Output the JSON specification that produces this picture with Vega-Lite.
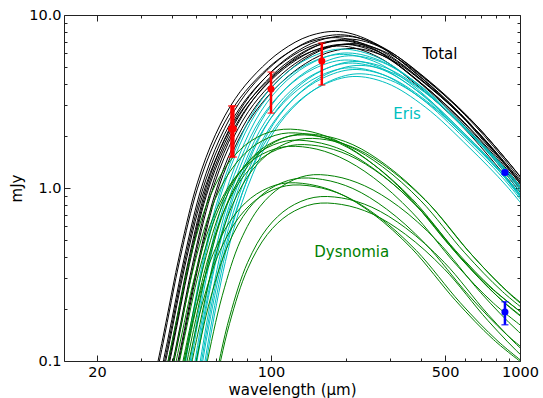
{
  "$schema": "https://vega.github.io/schema/vega-lite/v6.json",
  "width": 456,
  "height": 346,
  "autosize": "none",
  "padding": {"left": 64, "top": 15, "right": 23, "bottom": 37},
  "config": {
    "view": {"stroke": "#222222", "strokeWidth": 1},
    "font": "DejaVu Sans",
    "axis": {
      "domain": false, "grid": false, "tickColor": "#222222", "tickWidth": 1,
      "labelColor": "black", "titleColor": "black", "labelFont": "DejaVu Sans", "titleFont": "DejaVu Sans",
      "labelFontSize": 14.5, "titleFontSize": 15, "titleFontWeight": "normal",
      "labelFlush": false, "labelOverlap": false
    }
  },
  "datasets": {
    "curves": [
      {"c":"Total","i":"T1","w":31.3,"f":0.045},{"c":"Total","i":"T1","w":36.8,"f":0.136},{"c":"Total","i":"T1","w":43.2,"f":0.429},{"c":"Total","i":"T1","w":50.6,"f":1.07},{"c":"Total","i":"T1","w":59.8,"f":2.03},{"c":"Total","i":"T1","w":71.8,"f":3.28},{"c":"Total","i":"T1","w":87.4,"f":4.63},{"c":"Total","i":"T1","w":110.4,"f":6.22},{"c":"Total","i":"T1","w":142.6,"f":7.57},{"c":"Total","i":"T1","w":188.6,"f":8.02},{"c":"Total","i":"T1","w":257.6,"f":6.95},{"c":"Total","i":"T1","w":368,"f":4.8},{"c":"Total","i":"T1","w":552,"f":2.83},{"c":"Total","i":"T1","w":782,"f":1.6},{"c":"Total","i":"T1","w":1058,"f":0.927},
      {"c":"Total","i":"T2","w":31.3,"f":0.0416},{"c":"Total","i":"T2","w":36.8,"f":0.125},{"c":"Total","i":"T2","w":43.2,"f":0.395},{"c":"Total","i":"T2","w":50.6,"f":0.988},{"c":"Total","i":"T2","w":59.8,"f":1.87},{"c":"Total","i":"T2","w":71.8,"f":3.02},{"c":"Total","i":"T2","w":87.4,"f":4.26},{"c":"Total","i":"T2","w":110.4,"f":5.72},{"c":"Total","i":"T2","w":142.6,"f":6.97},{"c":"Total","i":"T2","w":188.6,"f":7.38},{"c":"Total","i":"T2","w":257.6,"f":6.4},{"c":"Total","i":"T2","w":368,"f":4.42},{"c":"Total","i":"T2","w":552,"f":2.6},{"c":"Total","i":"T2","w":782,"f":1.48},{"c":"Total","i":"T2","w":1058,"f":0.853},
      {"c":"Total","i":"T3","w":32.6,"f":0.0432},{"c":"Total","i":"T3","w":38.4,"f":0.13},{"c":"Total","i":"T3","w":45.1,"f":0.41},{"c":"Total","i":"T3","w":52.8,"f":1.026},{"c":"Total","i":"T3","w":62.4,"f":1.94},{"c":"Total","i":"T3","w":74.9,"f":3.13},{"c":"Total","i":"T3","w":91.2,"f":4.43},{"c":"Total","i":"T3","w":115.2,"f":5.94},{"c":"Total","i":"T3","w":148.8,"f":7.24},{"c":"Total","i":"T3","w":196.8,"f":7.67},{"c":"Total","i":"T3","w":268.8,"f":6.64},{"c":"Total","i":"T3","w":384,"f":4.59},{"c":"Total","i":"T3","w":576,"f":2.7},{"c":"Total","i":"T3","w":816,"f":1.53},{"c":"Total","i":"T3","w":1104,"f":0.886},
      {"c":"Total","i":"T4","w":32.6,"f":0.04},{"c":"Total","i":"T4","w":38.4,"f":0.12},{"c":"Total","i":"T4","w":45.1,"f":0.38},{"c":"Total","i":"T4","w":52.8,"f":0.95},{"c":"Total","i":"T4","w":62.4,"f":1.8},{"c":"Total","i":"T4","w":74.9,"f":2.9},{"c":"Total","i":"T4","w":91.2,"f":4.1},{"c":"Total","i":"T4","w":115.2,"f":5.5},{"c":"Total","i":"T4","w":148.8,"f":6.7},{"c":"Total","i":"T4","w":196.8,"f":7.1},{"c":"Total","i":"T4","w":268.8,"f":6.15},{"c":"Total","i":"T4","w":384,"f":4.25},{"c":"Total","i":"T4","w":576,"f":2.5},{"c":"Total","i":"T4","w":816,"f":1.42},{"c":"Total","i":"T4","w":1104,"f":0.82},
      {"c":"Total","i":"T5","w":34,"f":0.0424},{"c":"Total","i":"T5","w":40,"f":0.127},{"c":"Total","i":"T5","w":47,"f":0.403},{"c":"Total","i":"T5","w":55,"f":1.007},{"c":"Total","i":"T5","w":65,"f":1.91},{"c":"Total","i":"T5","w":78,"f":3.07},{"c":"Total","i":"T5","w":95,"f":4.35},{"c":"Total","i":"T5","w":120,"f":5.83},{"c":"Total","i":"T5","w":155,"f":7.1},{"c":"Total","i":"T5","w":205,"f":7.53},{"c":"Total","i":"T5","w":280,"f":6.52},{"c":"Total","i":"T5","w":400,"f":4.51},{"c":"Total","i":"T5","w":600,"f":2.65},{"c":"Total","i":"T5","w":850,"f":1.51},{"c":"Total","i":"T5","w":1150,"f":0.869},
      {"c":"Total","i":"T6","w":34,"f":0.04},{"c":"Total","i":"T6","w":40,"f":0.12},{"c":"Total","i":"T6","w":47,"f":0.38},{"c":"Total","i":"T6","w":55,"f":0.95},{"c":"Total","i":"T6","w":65,"f":1.8},{"c":"Total","i":"T6","w":78,"f":2.9},{"c":"Total","i":"T6","w":95,"f":4.1},{"c":"Total","i":"T6","w":120,"f":5.5},{"c":"Total","i":"T6","w":155,"f":6.7},{"c":"Total","i":"T6","w":205,"f":7.1},{"c":"Total","i":"T6","w":280,"f":6.15},{"c":"Total","i":"T6","w":400,"f":4.25},{"c":"Total","i":"T6","w":600,"f":2.5},{"c":"Total","i":"T6","w":850,"f":1.42},{"c":"Total","i":"T6","w":1150,"f":0.82},
      {"c":"Total","i":"T7","w":34,"f":0.038},{"c":"Total","i":"T7","w":40,"f":0.114},{"c":"Total","i":"T7","w":47,"f":0.361},{"c":"Total","i":"T7","w":55,"f":0.903},{"c":"Total","i":"T7","w":65,"f":1.71},{"c":"Total","i":"T7","w":78,"f":2.76},{"c":"Total","i":"T7","w":95,"f":3.9},{"c":"Total","i":"T7","w":120,"f":5.23},{"c":"Total","i":"T7","w":155,"f":6.37},{"c":"Total","i":"T7","w":205,"f":6.75},{"c":"Total","i":"T7","w":280,"f":5.84},{"c":"Total","i":"T7","w":400,"f":4.04},{"c":"Total","i":"T7","w":600,"f":2.38},{"c":"Total","i":"T7","w":850,"f":1.35},{"c":"Total","i":"T7","w":1150,"f":0.779},
      {"c":"Total","i":"T8","w":35.4,"f":0.0408},{"c":"Total","i":"T8","w":41.6,"f":0.122},{"c":"Total","i":"T8","w":48.9,"f":0.388},{"c":"Total","i":"T8","w":57.2,"f":0.969},{"c":"Total","i":"T8","w":67.6,"f":1.84},{"c":"Total","i":"T8","w":81.1,"f":2.96},{"c":"Total","i":"T8","w":98.8,"f":4.18},{"c":"Total","i":"T8","w":124.8,"f":5.61},{"c":"Total","i":"T8","w":161.2,"f":6.83},{"c":"Total","i":"T8","w":213.2,"f":7.24},{"c":"Total","i":"T8","w":291.2,"f":6.27},{"c":"Total","i":"T8","w":416,"f":4.34},{"c":"Total","i":"T8","w":624,"f":2.55},{"c":"Total","i":"T8","w":884,"f":1.45},{"c":"Total","i":"T8","w":1196,"f":0.836},
      {"c":"Total","i":"T9","w":35.4,"f":0.038},{"c":"Total","i":"T9","w":41.6,"f":0.114},{"c":"Total","i":"T9","w":48.9,"f":0.361},{"c":"Total","i":"T9","w":57.2,"f":0.903},{"c":"Total","i":"T9","w":67.6,"f":1.71},{"c":"Total","i":"T9","w":81.1,"f":2.76},{"c":"Total","i":"T9","w":98.8,"f":3.9},{"c":"Total","i":"T9","w":124.8,"f":5.23},{"c":"Total","i":"T9","w":161.2,"f":6.37},{"c":"Total","i":"T9","w":213.2,"f":6.75},{"c":"Total","i":"T9","w":291.2,"f":5.84},{"c":"Total","i":"T9","w":416,"f":4.04},{"c":"Total","i":"T9","w":624,"f":2.38},{"c":"Total","i":"T9","w":884,"f":1.35},{"c":"Total","i":"T9","w":1196,"f":0.779},
      {"c":"Total","i":"T10","w":36.7,"f":0.0384},{"c":"Total","i":"T10","w":43.2,"f":0.115},{"c":"Total","i":"T10","w":50.8,"f":0.365},{"c":"Total","i":"T10","w":59.4,"f":0.912},{"c":"Total","i":"T10","w":70.2,"f":1.73},{"c":"Total","i":"T10","w":84.2,"f":2.78},{"c":"Total","i":"T10","w":102.6,"f":3.94},{"c":"Total","i":"T10","w":129.6,"f":5.28},{"c":"Total","i":"T10","w":167.4,"f":6.43},{"c":"Total","i":"T10","w":221.4,"f":6.82},{"c":"Total","i":"T10","w":302.4,"f":5.9},{"c":"Total","i":"T10","w":432,"f":4.08},{"c":"Total","i":"T10","w":648,"f":2.4},{"c":"Total","i":"T10","w":918,"f":1.36},{"c":"Total","i":"T10","w":1242,"f":0.787},
      {"c":"Total","i":"T11","w":36.7,"f":0.036},{"c":"Total","i":"T11","w":43.2,"f":0.108},{"c":"Total","i":"T11","w":50.8,"f":0.342},{"c":"Total","i":"T11","w":59.4,"f":0.855},{"c":"Total","i":"T11","w":70.2,"f":1.62},{"c":"Total","i":"T11","w":84.2,"f":2.61},{"c":"Total","i":"T11","w":102.6,"f":3.69},{"c":"Total","i":"T11","w":129.6,"f":4.95},{"c":"Total","i":"T11","w":167.4,"f":6.03},{"c":"Total","i":"T11","w":221.4,"f":6.39},{"c":"Total","i":"T11","w":302.4,"f":5.54},{"c":"Total","i":"T11","w":432,"f":3.83},{"c":"Total","i":"T11","w":648,"f":2.25},{"c":"Total","i":"T11","w":918,"f":1.28},{"c":"Total","i":"T11","w":1242,"f":0.738},
      {"c":"Total","i":"T12","w":32.6,"f":0.0372},{"c":"Total","i":"T12","w":38.4,"f":0.112},{"c":"Total","i":"T12","w":45.1,"f":0.353},{"c":"Total","i":"T12","w":52.8,"f":0.884},{"c":"Total","i":"T12","w":62.4,"f":1.67},{"c":"Total","i":"T12","w":74.9,"f":2.7},{"c":"Total","i":"T12","w":91.2,"f":3.81},{"c":"Total","i":"T12","w":115.2,"f":5.12},{"c":"Total","i":"T12","w":148.8,"f":6.23},{"c":"Total","i":"T12","w":196.8,"f":6.6},{"c":"Total","i":"T12","w":268.8,"f":5.72},{"c":"Total","i":"T12","w":384,"f":3.95},{"c":"Total","i":"T12","w":576,"f":2.33},{"c":"Total","i":"T12","w":816,"f":1.32},{"c":"Total","i":"T12","w":1104,"f":0.763},

      {"c":"Eris","i":"E1","w":36.8,"f":0.0142},{"c":"Eris","i":"E1","w":43.2,"f":0.0673},{"c":"Eris","i":"E1","w":50.6,"f":0.26},{"c":"Eris","i":"E1","w":59.8,"f":0.767},{"c":"Eris","i":"E1","w":71.8,"f":1.65},{"c":"Eris","i":"E1","w":87.4,"f":2.93},{"c":"Eris","i":"E1","w":110.4,"f":4.38},{"c":"Eris","i":"E1","w":142.6,"f":5.65},{"c":"Eris","i":"E1","w":188.6,"f":6.35},{"c":"Eris","i":"E1","w":257.6,"f":5.82},{"c":"Eris","i":"E1","w":368,"f":4.24},{"c":"Eris","i":"E1","w":552,"f":2.48},{"c":"Eris","i":"E1","w":782,"f":1.475},{"c":"Eris","i":"E1","w":1058,"f":0.861},
      {"c":"Eris","i":"E2","w":36.8,"f":0.0132},{"c":"Eris","i":"E2","w":43.2,"f":0.0627},{"c":"Eris","i":"E2","w":50.6,"f":0.242},{"c":"Eris","i":"E2","w":59.8,"f":0.715},{"c":"Eris","i":"E2","w":71.8,"f":1.54},{"c":"Eris","i":"E2","w":87.4,"f":2.73},{"c":"Eris","i":"E2","w":110.4,"f":4.08},{"c":"Eris","i":"E2","w":142.6,"f":5.27},{"c":"Eris","i":"E2","w":188.6,"f":5.92},{"c":"Eris","i":"E2","w":257.6,"f":5.42},{"c":"Eris","i":"E2","w":368,"f":3.95},{"c":"Eris","i":"E2","w":552,"f":2.31},{"c":"Eris","i":"E2","w":782,"f":1.375},{"c":"Eris","i":"E2","w":1058,"f":0.803},
      {"c":"Eris","i":"E3","w":38.4,"f":0.0134},{"c":"Eris","i":"E3","w":45.1,"f":0.0638},{"c":"Eris","i":"E3","w":52.8,"f":0.246},{"c":"Eris","i":"E3","w":62.4,"f":0.728},{"c":"Eris","i":"E3","w":74.9,"f":1.57},{"c":"Eris","i":"E3","w":91.2,"f":2.78},{"c":"Eris","i":"E3","w":115.2,"f":4.16},{"c":"Eris","i":"E3","w":148.8,"f":5.36},{"c":"Eris","i":"E3","w":196.8,"f":6.03},{"c":"Eris","i":"E3","w":268.8,"f":5.52},{"c":"Eris","i":"E3","w":384,"f":4.02},{"c":"Eris","i":"E3","w":576,"f":2.35},{"c":"Eris","i":"E3","w":816,"f":1.4},{"c":"Eris","i":"E3","w":1104,"f":0.818},
      {"c":"Eris","i":"E4","w":38.4,"f":0.0122},{"c":"Eris","i":"E4","w":45.1,"f":0.0581},{"c":"Eris","i":"E4","w":52.8,"f":0.224},{"c":"Eris","i":"E4","w":62.4,"f":0.663},{"c":"Eris","i":"E4","w":74.9,"f":1.43},{"c":"Eris","i":"E4","w":91.2,"f":2.53},{"c":"Eris","i":"E4","w":115.2,"f":3.78},{"c":"Eris","i":"E4","w":148.8,"f":4.89},{"c":"Eris","i":"E4","w":196.8,"f":5.49},{"c":"Eris","i":"E4","w":268.8,"f":5.03},{"c":"Eris","i":"E4","w":384,"f":3.66},{"c":"Eris","i":"E4","w":576,"f":2.14},{"c":"Eris","i":"E4","w":816,"f":1.275},{"c":"Eris","i":"E4","w":1104,"f":0.745},
      {"c":"Eris","i":"E5","w":40,"f":0.013},{"c":"Eris","i":"E5","w":47,"f":0.0616},{"c":"Eris","i":"E5","w":55,"f":0.238},{"c":"Eris","i":"E5","w":65,"f":0.702},{"c":"Eris","i":"E5","w":78,"f":1.51},{"c":"Eris","i":"E5","w":95,"f":2.68},{"c":"Eris","i":"E5","w":120,"f":4.01},{"c":"Eris","i":"E5","w":155,"f":5.17},{"c":"Eris","i":"E5","w":205,"f":5.81},{"c":"Eris","i":"E5","w":280,"f":5.32},{"c":"Eris","i":"E5","w":400,"f":3.88},{"c":"Eris","i":"E5","w":600,"f":2.27},{"c":"Eris","i":"E5","w":850,"f":1.35},{"c":"Eris","i":"E5","w":1150,"f":0.788},
      {"c":"Eris","i":"E6","w":40,"f":0.0118},{"c":"Eris","i":"E6","w":47,"f":0.0559},{"c":"Eris","i":"E6","w":55,"f":0.216},{"c":"Eris","i":"E6","w":65,"f":0.637},{"c":"Eris","i":"E6","w":78,"f":1.37},{"c":"Eris","i":"E6","w":95,"f":2.43},{"c":"Eris","i":"E6","w":120,"f":3.64},{"c":"Eris","i":"E6","w":155,"f":4.69},{"c":"Eris","i":"E6","w":205,"f":5.27},{"c":"Eris","i":"E6","w":280,"f":4.83},{"c":"Eris","i":"E6","w":400,"f":3.52},{"c":"Eris","i":"E6","w":600,"f":2.06},{"c":"Eris","i":"E6","w":850,"f":1.225},{"c":"Eris","i":"E6","w":1150,"f":0.715},
      {"c":"Eris","i":"E7","w":40,"f":0.011},{"c":"Eris","i":"E7","w":47,"f":0.0524},{"c":"Eris","i":"E7","w":55,"f":0.202},{"c":"Eris","i":"E7","w":65,"f":0.598},{"c":"Eris","i":"E7","w":78,"f":1.29},{"c":"Eris","i":"E7","w":95,"f":2.28},{"c":"Eris","i":"E7","w":120,"f":3.41},{"c":"Eris","i":"E7","w":155,"f":4.41},{"c":"Eris","i":"E7","w":205,"f":4.95},{"c":"Eris","i":"E7","w":280,"f":4.54},{"c":"Eris","i":"E7","w":400,"f":3.3},{"c":"Eris","i":"E7","w":600,"f":1.93},{"c":"Eris","i":"E7","w":850,"f":1.15},{"c":"Eris","i":"E7","w":1150,"f":0.672},
      {"c":"Eris","i":"E8","w":41.6,"f":0.012},{"c":"Eris","i":"E8","w":48.9,"f":0.057},{"c":"Eris","i":"E8","w":57.2,"f":0.22},{"c":"Eris","i":"E8","w":67.6,"f":0.65},{"c":"Eris","i":"E8","w":81.1,"f":1.4},{"c":"Eris","i":"E8","w":98.8,"f":2.48},{"c":"Eris","i":"E8","w":124.8,"f":3.71},{"c":"Eris","i":"E8","w":161.2,"f":4.79},{"c":"Eris","i":"E8","w":213.2,"f":5.38},{"c":"Eris","i":"E8","w":291.2,"f":4.93},{"c":"Eris","i":"E8","w":416,"f":3.59},{"c":"Eris","i":"E8","w":624,"f":2.1},{"c":"Eris","i":"E8","w":884,"f":1.25},{"c":"Eris","i":"E8","w":1196,"f":0.73},
      {"c":"Eris","i":"E9","w":41.6,"f":0.0108},{"c":"Eris","i":"E9","w":48.9,"f":0.0513},{"c":"Eris","i":"E9","w":57.2,"f":0.198},{"c":"Eris","i":"E9","w":67.6,"f":0.585},{"c":"Eris","i":"E9","w":81.1,"f":1.26},{"c":"Eris","i":"E9","w":98.8,"f":2.23},{"c":"Eris","i":"E9","w":124.8,"f":3.34},{"c":"Eris","i":"E9","w":161.2,"f":4.31},{"c":"Eris","i":"E9","w":213.2,"f":4.84},{"c":"Eris","i":"E9","w":291.2,"f":4.44},{"c":"Eris","i":"E9","w":416,"f":3.23},{"c":"Eris","i":"E9","w":624,"f":1.89},{"c":"Eris","i":"E9","w":884,"f":1.125},{"c":"Eris","i":"E9","w":1196,"f":0.657},
      {"c":"Eris","i":"E10","w":43.2,"f":0.0114},{"c":"Eris","i":"E10","w":50.8,"f":0.0542},{"c":"Eris","i":"E10","w":59.4,"f":0.209},{"c":"Eris","i":"E10","w":70.2,"f":0.618},{"c":"Eris","i":"E10","w":84.2,"f":1.33},{"c":"Eris","i":"E10","w":102.6,"f":2.36},{"c":"Eris","i":"E10","w":129.6,"f":3.52},{"c":"Eris","i":"E10","w":167.4,"f":4.55},{"c":"Eris","i":"E10","w":221.4,"f":5.11},{"c":"Eris","i":"E10","w":302.4,"f":4.68},{"c":"Eris","i":"E10","w":432,"f":3.41},{"c":"Eris","i":"E10","w":648,"f":2.0},{"c":"Eris","i":"E10","w":918,"f":1.19},{"c":"Eris","i":"E10","w":1242,"f":0.694},
      {"c":"Eris","i":"E11","w":43.2,"f":0.0102},{"c":"Eris","i":"E11","w":50.8,"f":0.0485},{"c":"Eris","i":"E11","w":59.4,"f":0.187},{"c":"Eris","i":"E11","w":70.2,"f":0.553},{"c":"Eris","i":"E11","w":84.2,"f":1.19},{"c":"Eris","i":"E11","w":102.6,"f":2.11},{"c":"Eris","i":"E11","w":129.6,"f":3.15},{"c":"Eris","i":"E11","w":167.4,"f":4.07},{"c":"Eris","i":"E11","w":221.4,"f":4.57},{"c":"Eris","i":"E11","w":302.4,"f":4.19},{"c":"Eris","i":"E11","w":432,"f":3.05},{"c":"Eris","i":"E11","w":648,"f":1.79},{"c":"Eris","i":"E11","w":918,"f":1.06},{"c":"Eris","i":"E11","w":1242,"f":0.621},
      {"c":"Eris","i":"E12","w":41.6,"f":0.0098},{"c":"Eris","i":"E12","w":48.9,"f":0.0467},{"c":"Eris","i":"E12","w":57.2,"f":0.18},{"c":"Eris","i":"E12","w":67.6,"f":0.533},{"c":"Eris","i":"E12","w":81.1,"f":1.15},{"c":"Eris","i":"E12","w":98.8,"f":2.03},{"c":"Eris","i":"E12","w":124.8,"f":3.04},{"c":"Eris","i":"E12","w":161.2,"f":3.93},{"c":"Eris","i":"E12","w":213.2,"f":4.41},{"c":"Eris","i":"E12","w":291.2,"f":4.04},{"c":"Eris","i":"E12","w":416,"f":2.94},{"c":"Eris","i":"E12","w":624,"f":1.72},{"c":"Eris","i":"E12","w":884,"f":1.025},{"c":"Eris","i":"E12","w":1196,"f":0.599},

      {"c":"Dysnomia","i":"D1","w":35.2,"f":0.0515},{"c":"Dysnomia","i":"D1","w":41.4,"f":0.162},{"c":"Dysnomia","i":"D1","w":48.4,"f":0.441},{"c":"Dysnomia","i":"D1","w":57.2,"f":0.911},{"c":"Dysnomia","i":"D1","w":68.6,"f":1.44},{"c":"Dysnomia","i":"D1","w":83.6,"f":1.88},{"c":"Dysnomia","i":"D1","w":105.6,"f":2.16},{"c":"Dysnomia","i":"D1","w":136.4,"f":2.15},{"c":"Dysnomia","i":"D1","w":180.4,"f":1.9},{"c":"Dysnomia","i":"D1","w":246.4,"f":1.44},{"c":"Dysnomia","i":"D1","w":352,"f":0.911},{"c":"Dysnomia","i":"D1","w":528,"f":0.456},{"c":"Dysnomia","i":"D1","w":748,"f":0.272},{"c":"Dysnomia","i":"D1","w":1012,"f":0.191},
      {"c":"Dysnomia","i":"D2","w":36.8,"f":0.049},{"c":"Dysnomia","i":"D2","w":43.2,"f":0.154},{"c":"Dysnomia","i":"D2","w":50.6,"f":0.42},{"c":"Dysnomia","i":"D2","w":59.8,"f":0.868},{"c":"Dysnomia","i":"D2","w":71.8,"f":1.37},{"c":"Dysnomia","i":"D2","w":87.4,"f":1.79},{"c":"Dysnomia","i":"D2","w":110.4,"f":2.06},{"c":"Dysnomia","i":"D2","w":142.6,"f":2.04},{"c":"Dysnomia","i":"D2","w":188.6,"f":1.81},{"c":"Dysnomia","i":"D2","w":257.6,"f":1.37},{"c":"Dysnomia","i":"D2","w":368,"f":0.868},{"c":"Dysnomia","i":"D2","w":552,"f":0.434},{"c":"Dysnomia","i":"D2","w":782,"f":0.259},{"c":"Dysnomia","i":"D2","w":1058,"f":0.182},
      {"c":"Dysnomia","i":"D3","w":40,"f":0.0476},{"c":"Dysnomia","i":"D3","w":47,"f":0.15},{"c":"Dysnomia","i":"D3","w":55,"f":0.408},{"c":"Dysnomia","i":"D3","w":65,"f":0.843},{"c":"Dysnomia","i":"D3","w":78,"f":1.33},{"c":"Dysnomia","i":"D3","w":95,"f":1.74},{"c":"Dysnomia","i":"D3","w":120,"f":2.0},{"c":"Dysnomia","i":"D3","w":155,"f":1.99},{"c":"Dysnomia","i":"D3","w":205,"f":1.75},{"c":"Dysnomia","i":"D3","w":280,"f":1.33},{"c":"Dysnomia","i":"D3","w":400,"f":0.843},{"c":"Dysnomia","i":"D3","w":600,"f":0.422},{"c":"Dysnomia","i":"D3","w":850,"f":0.252},{"c":"Dysnomia","i":"D3","w":1150,"f":0.177},
      {"c":"Dysnomia","i":"D4","w":41.6,"f":0.0483},{"c":"Dysnomia","i":"D4","w":48.9,"f":0.152},{"c":"Dysnomia","i":"D4","w":57.2,"f":0.414},{"c":"Dysnomia","i":"D4","w":67.6,"f":0.856},{"c":"Dysnomia","i":"D4","w":81.1,"f":1.35},{"c":"Dysnomia","i":"D4","w":98.8,"f":1.77},{"c":"Dysnomia","i":"D4","w":124.8,"f":2.03},{"c":"Dysnomia","i":"D4","w":161.2,"f":2.01},{"c":"Dysnomia","i":"D4","w":213.2,"f":1.78},{"c":"Dysnomia","i":"D4","w":291.2,"f":1.35},{"c":"Dysnomia","i":"D4","w":416,"f":0.856},{"c":"Dysnomia","i":"D4","w":624,"f":0.428},{"c":"Dysnomia","i":"D4","w":884,"f":0.255},{"c":"Dysnomia","i":"D4","w":1196,"f":0.179},
      {"c":"Dysnomia","i":"D5","w":38.4,"f":0.0445},{"c":"Dysnomia","i":"D5","w":45.1,"f":0.14},{"c":"Dysnomia","i":"D5","w":52.8,"f":0.381},{"c":"Dysnomia","i":"D5","w":62.4,"f":0.787},{"c":"Dysnomia","i":"D5","w":74.9,"f":1.24},{"c":"Dysnomia","i":"D5","w":91.2,"f":1.63},{"c":"Dysnomia","i":"D5","w":115.2,"f":1.87},{"c":"Dysnomia","i":"D5","w":148.8,"f":1.85},{"c":"Dysnomia","i":"D5","w":196.8,"f":1.64},{"c":"Dysnomia","i":"D5","w":268.8,"f":1.24},{"c":"Dysnomia","i":"D5","w":384,"f":0.787},{"c":"Dysnomia","i":"D5","w":576,"f":0.394},{"c":"Dysnomia","i":"D5","w":816,"f":0.235},{"c":"Dysnomia","i":"D5","w":1104,"f":0.165},
      {"c":"Dysnomia","i":"D6","w":43.2,"f":0.0455},{"c":"Dysnomia","i":"D6","w":50.8,"f":0.143},{"c":"Dysnomia","i":"D6","w":59.4,"f":0.39},{"c":"Dysnomia","i":"D6","w":70.2,"f":0.806},{"c":"Dysnomia","i":"D6","w":84.2,"f":1.27},{"c":"Dysnomia","i":"D6","w":102.6,"f":1.66},{"c":"Dysnomia","i":"D6","w":129.6,"f":1.91},{"c":"Dysnomia","i":"D6","w":167.4,"f":1.9},{"c":"Dysnomia","i":"D6","w":221.4,"f":1.68},{"c":"Dysnomia","i":"D6","w":302.4,"f":1.27},{"c":"Dysnomia","i":"D6","w":432,"f":0.806},{"c":"Dysnomia","i":"D6","w":648,"f":0.403},{"c":"Dysnomia","i":"D6","w":918,"f":0.241},{"c":"Dysnomia","i":"D6","w":1242,"f":0.169},
      {"c":"Dysnomia","i":"D7","w":40,"f":0.042},{"c":"Dysnomia","i":"D7","w":47,"f":0.132},{"c":"Dysnomia","i":"D7","w":55,"f":0.36},{"c":"Dysnomia","i":"D7","w":65,"f":0.744},{"c":"Dysnomia","i":"D7","w":78,"f":1.18},{"c":"Dysnomia","i":"D7","w":95,"f":1.54},{"c":"Dysnomia","i":"D7","w":120,"f":1.76},{"c":"Dysnomia","i":"D7","w":155,"f":1.75},{"c":"Dysnomia","i":"D7","w":205,"f":1.55},{"c":"Dysnomia","i":"D7","w":280,"f":1.18},{"c":"Dysnomia","i":"D7","w":400,"f":0.744},{"c":"Dysnomia","i":"D7","w":600,"f":0.372},{"c":"Dysnomia","i":"D7","w":850,"f":0.222},{"c":"Dysnomia","i":"D7","w":1150,"f":0.156},
      {"c":"Dysnomia","i":"D8","w":36.8,"f":0.041},{"c":"Dysnomia","i":"D8","w":43.2,"f":0.129},{"c":"Dysnomia","i":"D8","w":50.6,"f":0.351},{"c":"Dysnomia","i":"D8","w":59.8,"f":0.725},{"c":"Dysnomia","i":"D8","w":71.8,"f":1.15},{"c":"Dysnomia","i":"D8","w":87.4,"f":1.5},{"c":"Dysnomia","i":"D8","w":110.4,"f":1.72},{"c":"Dysnomia","i":"D8","w":142.6,"f":1.71},{"c":"Dysnomia","i":"D8","w":188.6,"f":1.51},{"c":"Dysnomia","i":"D8","w":257.6,"f":1.15},{"c":"Dysnomia","i":"D8","w":368,"f":0.725},{"c":"Dysnomia","i":"D8","w":552,"f":0.363},{"c":"Dysnomia","i":"D8","w":782,"f":0.216},{"c":"Dysnomia","i":"D8","w":1058,"f":0.152},
      {"c":"Dysnomia","i":"D9","w":36.8,"f":0.0252},{"c":"Dysnomia","i":"D9","w":43.2,"f":0.0792},{"c":"Dysnomia","i":"D9","w":50.6,"f":0.216},{"c":"Dysnomia","i":"D9","w":59.8,"f":0.446},{"c":"Dysnomia","i":"D9","w":71.8,"f":0.706},{"c":"Dysnomia","i":"D9","w":87.4,"f":0.922},{"c":"Dysnomia","i":"D9","w":110.4,"f":1.06},{"c":"Dysnomia","i":"D9","w":142.6,"f":1.05},{"c":"Dysnomia","i":"D9","w":188.6,"f":0.929},{"c":"Dysnomia","i":"D9","w":257.6,"f":0.706},{"c":"Dysnomia","i":"D9","w":368,"f":0.446},{"c":"Dysnomia","i":"D9","w":552,"f":0.223},{"c":"Dysnomia","i":"D9","w":782,"f":0.133},{"c":"Dysnomia","i":"D9","w":1058,"f":0.0936},
      {"c":"Dysnomia","i":"D10","w":41.6,"f":0.027},{"c":"Dysnomia","i":"D10","w":48.9,"f":0.0847},{"c":"Dysnomia","i":"D10","w":57.2,"f":0.231},{"c":"Dysnomia","i":"D10","w":67.6,"f":0.477},{"c":"Dysnomia","i":"D10","w":81.1,"f":0.755},{"c":"Dysnomia","i":"D10","w":98.8,"f":0.986},{"c":"Dysnomia","i":"D10","w":124.8,"f":1.13},{"c":"Dysnomia","i":"D10","w":161.2,"f":1.12},{"c":"Dysnomia","i":"D10","w":213.2,"f":0.993},{"c":"Dysnomia","i":"D10","w":291.2,"f":0.755},{"c":"Dysnomia","i":"D10","w":416,"f":0.477},{"c":"Dysnomia","i":"D10","w":624,"f":0.239},{"c":"Dysnomia","i":"D10","w":884,"f":0.142},{"c":"Dysnomia","i":"D10","w":1196,"f":0.1},
      {"c":"Dysnomia","i":"D11","w":46.4,"f":0.028},{"c":"Dysnomia","i":"D11","w":54.5,"f":0.088},{"c":"Dysnomia","i":"D11","w":63.8,"f":0.24},{"c":"Dysnomia","i":"D11","w":75.4,"f":0.496},{"c":"Dysnomia","i":"D11","w":90.5,"f":0.784},{"c":"Dysnomia","i":"D11","w":110.2,"f":1.02},{"c":"Dysnomia","i":"D11","w":139.2,"f":1.18},{"c":"Dysnomia","i":"D11","w":179.8,"f":1.17},{"c":"Dysnomia","i":"D11","w":237.8,"f":1.03},{"c":"Dysnomia","i":"D11","w":324.8,"f":0.784},{"c":"Dysnomia","i":"D11","w":464,"f":0.496},{"c":"Dysnomia","i":"D11","w":696,"f":0.248},{"c":"Dysnomia","i":"D11","w":986,"f":0.148},{"c":"Dysnomia","i":"D11","w":1334,"f":0.104},
      {"c":"Dysnomia","i":"D12","w":38.4,"f":0.0245},{"c":"Dysnomia","i":"D12","w":45.1,"f":0.077},{"c":"Dysnomia","i":"D12","w":52.8,"f":0.21},{"c":"Dysnomia","i":"D12","w":62.4,"f":0.434},{"c":"Dysnomia","i":"D12","w":74.9,"f":0.686},{"c":"Dysnomia","i":"D12","w":91.2,"f":0.896},{"c":"Dysnomia","i":"D12","w":115.2,"f":1.03},{"c":"Dysnomia","i":"D12","w":148.8,"f":1.02},{"c":"Dysnomia","i":"D12","w":196.8,"f":0.903},{"c":"Dysnomia","i":"D12","w":268.8,"f":0.686},{"c":"Dysnomia","i":"D12","w":384,"f":0.434},{"c":"Dysnomia","i":"D12","w":576,"f":0.217},{"c":"Dysnomia","i":"D12","w":816,"f":0.13},{"c":"Dysnomia","i":"D12","w":1104,"f":0.091},
      {"c":"Dysnomia","i":"D13","w":49.6,"f":0.021},{"c":"Dysnomia","i":"D13","w":58.3,"f":0.066},{"c":"Dysnomia","i":"D13","w":68.2,"f":0.18},{"c":"Dysnomia","i":"D13","w":80.6,"f":0.372},{"c":"Dysnomia","i":"D13","w":96.7,"f":0.588},{"c":"Dysnomia","i":"D13","w":117.8,"f":0.768},{"c":"Dysnomia","i":"D13","w":148.8,"f":0.882},{"c":"Dysnomia","i":"D13","w":192.2,"f":0.876},{"c":"Dysnomia","i":"D13","w":254.2,"f":0.774},{"c":"Dysnomia","i":"D13","w":347.2,"f":0.588},{"c":"Dysnomia","i":"D13","w":496,"f":0.372},{"c":"Dysnomia","i":"D13","w":744,"f":0.186},{"c":"Dysnomia","i":"D13","w":1054,"f":0.111},{"c":"Dysnomia","i":"D13","w":1426,"f":0.078},
      {"c":"Dysnomia","i":"D14","w":49.6,"f":0.0193},{"c":"Dysnomia","i":"D14","w":58.3,"f":0.0605},{"c":"Dysnomia","i":"D14","w":68.2,"f":0.165},{"c":"Dysnomia","i":"D14","w":80.6,"f":0.341},{"c":"Dysnomia","i":"D14","w":96.7,"f":0.539},{"c":"Dysnomia","i":"D14","w":117.8,"f":0.704},{"c":"Dysnomia","i":"D14","w":148.8,"f":0.809},{"c":"Dysnomia","i":"D14","w":192.2,"f":0.803},{"c":"Dysnomia","i":"D14","w":254.2,"f":0.71},{"c":"Dysnomia","i":"D14","w":347.2,"f":0.539},{"c":"Dysnomia","i":"D14","w":496,"f":0.341},{"c":"Dysnomia","i":"D14","w":744,"f":0.171},{"c":"Dysnomia","i":"D14","w":1054,"f":0.102},{"c":"Dysnomia","i":"D14","w":1426,"f":0.0715}
    ],
    "pts": [
      {"c":"Herschel","w":69.4,"f":2.2,"lo":1.51,"hi":2.98},
      {"c":"Herschel","w":70.6,"f":2.2,"lo":1.51,"hi":2.98},
      {"c":"Herschel","w":100,"f":3.73,"lo":2.71,"hi":4.68},
      {"c":"Herschel","w":160,"f":5.42,"lo":3.94,"hi":6.89},
      {"c":"LABOCA","w":870,"f":1.23,"lo":1.2,"hi":1.26},
      {"c":"LABOCA","w":870,"f":0.192,"lo":0.162,"hi":0.22}
    ],
    "labels": [
      {"c":"Total","w":477,"f":5.96},
      {"c":"Eris","w":352,"f":2.68},
      {"c":"Dysnomia","w":211,"f":0.427}
    ]
  },
  "layer": [
    {
      "data": {"name": "curves"},
      "transform": [{"filter": "datum.c == 'Total'"}],
      "mark": {"type": "line", "clip": true, "strokeWidth": 1, "interpolate": "catmull-rom"},
      "encoding": {
        "x": {"field": "w", "type": "quantitative",
          "scale": {"type": "log", "domain": [14.75, 1000], "nice": false, "zero": false},
          "axis": {"orient": "bottom", "title": "wavelength (μm)",
            "values": [20,30,40,50,60,70,80,90,100,200,300,400,500,600,700,800,900,1000],
            "labelExpr": "indexof([20,100,500,1000], datum.value) >= 0 ? format(datum.value, 'd') : ''",
            "tickSize": {"condition": {"test": "indexof([20,100,500,1000], datum.value) >= 0", "value": -6}, "value": -3},
            "labelPadding": 10, "titlePadding": 1}},
        "y": {"field": "f", "type": "quantitative",
          "scale": {"type": "log", "domain": [0.1, 10], "nice": false, "zero": false},
          "axis": {"orient": "left", "title": "mJy",
            "values": [0.1,0.2,0.3,0.4,0.5,0.6,0.7,0.8,0.9,1,2,3,4,5,6,7,8,9,10],
            "labelExpr": "(datum.value == 0.1 || datum.value == 1 || datum.value == 10) ? format(datum.value, '.1f') : ''",
            "tickSize": {"condition": {"test": "datum.value == 0.1 || datum.value == 1 || datum.value == 10", "value": -6}, "value": -3},
            "labelPadding": 9, "titlePadding": 4}},
        "detail": {"field": "i"},
        "color": {"field": "c", "type": "nominal", "legend": null,
          "scale": {"domain": ["Total","Eris","Dysnomia","Herschel","LABOCA"], "range": ["#000000","#00BFBF","#008000","#FF0000","#0000FF"]}}
      }
    },
    {
      "data": {"name": "curves"},
      "transform": [{"filter": "datum.c == 'Eris'"}],
      "mark": {"type": "line", "clip": true, "strokeWidth": 1, "interpolate": "catmull-rom"},
      "encoding": {
        "x": {"field": "w", "type": "quantitative", "axis": null},
        "y": {"field": "f", "type": "quantitative", "axis": null},
        "detail": {"field": "i"},
        "color": {"field": "c", "type": "nominal", "legend": null}
      }
    },
    {
      "data": {"name": "curves"},
      "transform": [{"filter": "datum.c == 'Dysnomia'"}],
      "mark": {"type": "line", "clip": true, "strokeWidth": 1, "interpolate": "catmull-rom"},
      "encoding": {
        "x": {"field": "w", "type": "quantitative", "axis": null},
        "y": {"field": "f", "type": "quantitative", "axis": null},
        "detail": {"field": "i"},
        "color": {"field": "c", "type": "nominal", "legend": null}
      }
    },
    {
      "data": {"name": "pts"},
      "mark": {"type": "rule", "strokeWidth": 2.5},
      "encoding": {
        "x": {"field": "w", "type": "quantitative", "axis": null},
        "y": {"field": "lo", "type": "quantitative", "axis": null},
        "y2": {"field": "hi"},
        "color": {"field": "c", "type": "nominal", "legend": null}
      }
    },
    {
      "data": {"name": "pts"},
      "mark": {"type": "tick", "orient": "horizontal", "size": 7, "thickness": 1.5},
      "encoding": {
        "x": {"field": "w", "type": "quantitative", "axis": null},
        "y": {"field": "lo", "type": "quantitative", "axis": null},
        "color": {"field": "c", "type": "nominal", "legend": null}
      }
    },
    {
      "data": {"name": "pts"},
      "mark": {"type": "tick", "orient": "horizontal", "size": 7, "thickness": 1.5},
      "encoding": {
        "x": {"field": "w", "type": "quantitative", "axis": null},
        "y": {"field": "hi", "type": "quantitative", "axis": null},
        "color": {"field": "c", "type": "nominal", "legend": null}
      }
    },
    {
      "data": {"name": "pts"},
      "mark": {"type": "point", "filled": true, "size": 50, "opacity": 1},
      "encoding": {
        "x": {"field": "w", "type": "quantitative", "axis": null},
        "y": {"field": "f", "type": "quantitative", "axis": null},
        "color": {"field": "c", "type": "nominal", "legend": null}
      }
    },
    {
      "data": {"name": "labels"},
      "mark": {"type": "text", "fontSize": 15, "font": "DejaVu Sans", "align": "center", "baseline": "middle"},
      "encoding": {
        "x": {"field": "w", "type": "quantitative",
          "axis": {"orient": "top", "title": null, "labels": false,
            "values": [20,30,40,50,60,70,80,90,100,200,300,400,500,600,700,800,900,1000],
            "tickSize": {"condition": {"test": "indexof([20,100,500,1000], datum.value) >= 0", "value": -6}, "value": -3}}},
        "y": {"field": "f", "type": "quantitative",
          "axis": {"orient": "right", "title": null, "labels": false,
            "values": [0.1,0.2,0.3,0.4,0.5,0.6,0.7,0.8,0.9,1,2,3,4,5,6,7,8,9,10],
            "tickSize": {"condition": {"test": "datum.value == 0.1 || datum.value == 1 || datum.value == 10", "value": -6}, "value": -3}}},
        "text": {"field": "c"},
        "color": {"field": "c", "type": "nominal", "legend": null}
      }
    }
  ],
  "resolve": {"axis": {"x": "independent", "y": "independent"}}
}
